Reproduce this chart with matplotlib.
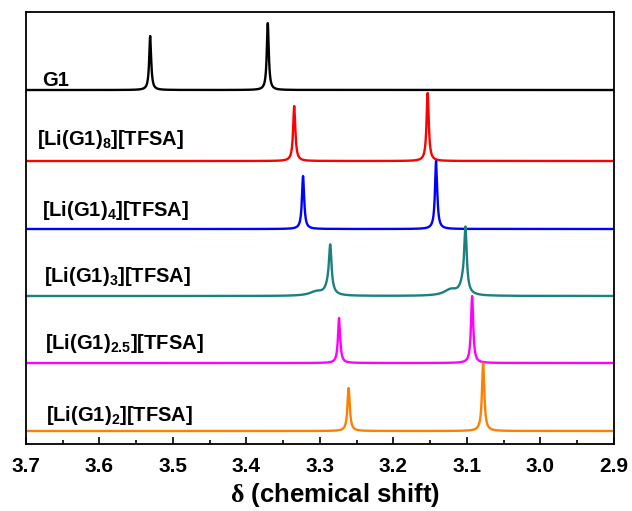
import numpy as np
import matplotlib.pyplot as plt

# %% ------ spectra parameters (peak position in ppm, height, half width)

labels = ['G1', '[Li(G1)$_{8}$][TFSA]', '[Li(G1)$_{4}$][TFSA]',
          '[Li(G1)$_{3}$][TFSA]', '[Li(G1)$_{2.5}$][TFSA]',
          '[Li(G1)$_{2}$][TFSA]']
colors = ['black', '#ff0000', '#0000ff', '#1a8080', '#ff00ff', '#ff8000']
offsets = [354, 283, 215, 148, 81, 13]

# main peaks (CH3 / CH2 of G1)
peak_pos = [[3.531, 3.371], [3.335, 3.1535], [3.323, 3.142],
            [3.286, 3.102], [3.274, 3.093], [3.261, 3.078]]
peak_height = [[54, 67], [55, 68], [53, 68], [42, 60], [45, 67], [43, 68]]
peak_hwhm = [[0.0016, 0.0016], [0.0018, 0.0018], [0.0018, 0.0018],
             [0.0020, 0.0020], [0.0018, 0.0018], [0.0019, 0.0019]]

# broad bases and shoulders seen on the G1:Li = 3 sample
shoulder_pos = [[], [], [], [3.288, 3.105, 3.305, 3.122], [], []]
shoulder_height = [[], [], [], [10, 11, 4, 6], [], []]
shoulder_hwhm = [[], [], [], [0.005, 0.005, 0.011, 0.011], [], []]

label_x = [3.678, 3.685, 3.678, 3.6755, 3.674, 3.673]
label_dy = [10, 22, 19, 20, 20, 16]

# %% ------ plot

plt.rcParams['font.family'] = 'Liberation Sans'
plt.rcParams['font.weight'] = 'bold'
plt.rcParams['mathtext.fontset'] = 'custom'
plt.rcParams['mathtext.rm'] = 'Liberation Serif'
plt.rcParams['mathtext.bf'] = 'Liberation Sans:bold'
plt.rcParams['mathtext.it'] = 'Liberation Sans:bold'
plt.rcParams['mathtext.default'] = 'bf'


def lorentz(x, x0, h, w):
    return h * w**2 / ((x - x0)**2 + w**2)


ppm = np.linspace(2.9, 3.7, 6001)

fig = plt.figure(figsize=(6.32, 5.11), dpi=100)
ax = fig.add_axes([0.0411, 0.1311, 0.9304, 0.8454])

for i in range(len(labels)):
    spec = np.zeros_like(ppm)
    for x0, h, w in zip(peak_pos[i], peak_height[i], peak_hwhm[i]):
        spec += lorentz(ppm, x0, h, w)
    for x0, h, w in zip(shoulder_pos[i], shoulder_height[i], shoulder_hwhm[i]):
        spec += lorentz(ppm, x0, h, w)
    ax.plot(ppm, spec + offsets[i], color=colors[i], lw=1.7)
    ax.text(label_x[i], offsets[i] + label_dy[i], labels[i],
            fontsize=14.5, fontweight='bold', ha='left', va='center')

ax.set_xlim(3.7, 2.9)
ax.set_ylim(0, 432)
ax.set_yticks([])
ax.set_xticks(np.arange(2.9, 3.71, 0.1))
ax.set_xticks(np.arange(2.95, 3.7, 0.1), minor=True)
ax.tick_params(axis='x', which='major', direction='in', length=5,
               width=1.2, labelsize=15, pad=9)
ax.tick_params(axis='x', which='minor', direction='in', length=3, width=1.2)
for lab in ax.get_xticklabels():
    lab.set_fontweight('bold')
for sp in ax.spines.values():
    sp.set_linewidth(1.3)
ax.set_xlabel(r'$\mathrm{\delta}$ (chemical shift)', fontsize=18.5,
              fontweight='bold', labelpad=4, x=0.525)

plt.savefig('out.png', dpi=100)
